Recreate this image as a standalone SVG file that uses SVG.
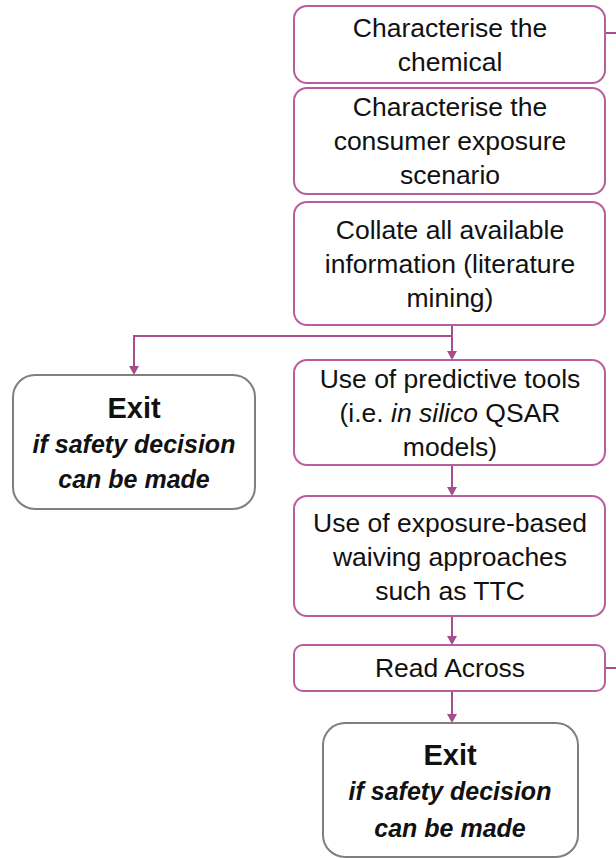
<svg xmlns="http://www.w3.org/2000/svg" width="616" height="858" viewBox="0 0 616 858">
<style>
.box{fill:#fff;stroke:#B85E9E;stroke-width:2}
.exit{fill:#fff;stroke:#7F7F7F;stroke-width:2}
.t{font-family:"Liberation Sans",Arial,sans-serif;font-size:26.5px;fill:#111;text-anchor:middle}
.eb{font-family:"Liberation Sans",Arial,sans-serif;font-size:29px;font-weight:bold;fill:#111;text-anchor:middle}
.ei{font-family:"Liberation Sans",Arial,sans-serif;font-size:25px;font-weight:bold;font-style:italic;fill:#111;text-anchor:middle}
.c{fill:none;stroke:#A64D8C;stroke-width:2}
</style>
<defs>
<marker id="ah" markerWidth="8" markerHeight="8" refX="4" refY="6" orient="auto" markerUnits="userSpaceOnUse" viewBox="0 0 8 8">
<path d="M0,0 L8,0 L4,8 Z" fill="#A64D8C" transform="rotate(-90 4 4)"/>
</marker>
</defs>
<g id="connectors">
<path class="c" d="M452,325 V352"/>
<path d="M447,351 L457,351 L452,360 Z" fill="#A64D8C"/>
<path class="c" d="M452,336 H134 V367"/>
<path d="M129,366 L139,366 L134,375 Z" fill="#A64D8C"/>
<path class="c" d="M452,465 V488"/>
<path d="M447,487 L457,487 L452,496 Z" fill="#A64D8C"/>
<path class="c" d="M452,616 V637"/>
<path d="M447,636 L457,636 L452,645 Z" fill="#A64D8C"/>
<path class="c" d="M452,691 V715"/>
<path d="M447,714 L457,714 L452,723 Z" fill="#A64D8C"/>
<path class="c" d="M605,33 H616"/>
<path class="c" d="M605,668 H616"/>
</g>
<g id="n1">
<rect class="box" x="294" y="6" width="311" height="77" rx="13"/>
<text class="t" x="450" y="37">Characterise the</text>
<text class="t" x="450" y="71">chemical</text>
</g>
<g id="n2">
<rect class="box" x="294" y="88" width="311" height="106" rx="13"/>
<text class="t" x="450" y="116">Characterise the</text>
<text class="t" x="450" y="150">consumer exposure</text>
<text class="t" x="450" y="184">scenario</text>
</g>
<g id="n3">
<rect class="box" x="294" y="202" width="311" height="123" rx="13"/>
<text class="t" x="450" y="239">Collate all available</text>
<text class="t" x="450" y="273">information (literature</text>
<text class="t" x="450" y="307">mining)</text>
</g>
<g id="n4">
<rect class="box" x="294" y="360" width="311" height="105" rx="13"/>
<text class="t" x="450" y="388">Use of predictive tools</text>
<text class="t" x="450" y="422">(i.e. <tspan font-style="italic">in silico</tspan> QSAR</text>
<text class="t" x="450" y="456">models)</text>
</g>
<g id="n5">
<rect class="box" x="294" y="496" width="311" height="120" rx="13"/>
<text class="t" x="450" y="532">Use of exposure-based</text>
<text class="t" x="450" y="566">waiving approaches</text>
<text class="t" x="450" y="600">such as TTC</text>
</g>
<g id="n6">
<rect class="box" x="294" y="645" width="311" height="46" rx="9"/>
<text class="t" x="450" y="677">Read Across</text>
</g>
<g id="exit1">
<rect class="exit" x="13" y="375" width="242" height="134" rx="22"/>
<text class="eb" x="134" y="418">Exit</text>
<text class="ei" x="134" y="453">if safety decision</text>
<text class="ei" x="134" y="488">can be made</text>
</g>
<g id="exit2">
<rect class="exit" x="323" y="723" width="255" height="134" rx="22"/>
<text class="eb" x="450" y="765">Exit</text>
<text class="ei" x="450" y="800">if safety decision</text>
<text class="ei" x="450" y="837">can be made</text>
</g>
</svg>
